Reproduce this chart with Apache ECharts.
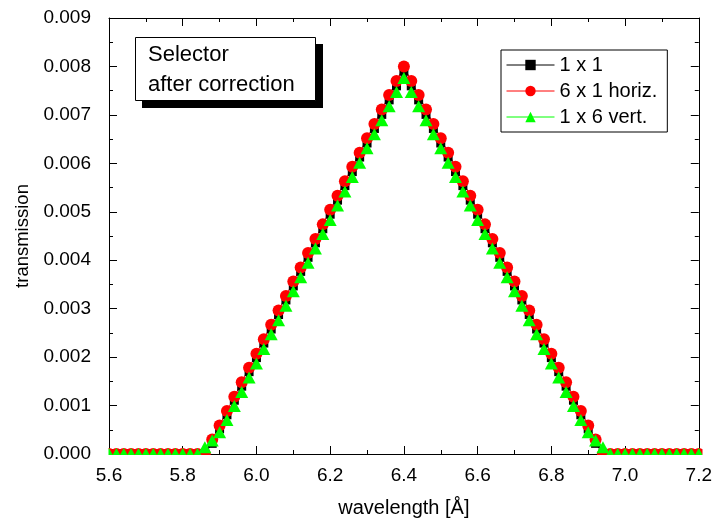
<!DOCTYPE html>
<html>
<head>
<meta charset="utf-8">
<script src="https://cdn.jsdelivr.net/npm/echarts@6/dist/echarts.min.js"></script>
<style>
html,body{margin:0;padding:0;background:#fff;}
#chart{width:715px;height:524px;}
</style>
</head>
<body>
<div id="chart"></div>
<script>
var wavelengths = [5.60,5.62,5.64,5.66,5.68,5.70,5.72,5.74,5.76,5.78,5.80,5.82,5.84,5.86,5.88,5.90,5.92,5.94,5.96,5.98,
6.00,6.02,6.04,6.06,6.08,6.10,6.12,6.14,6.16,6.18,6.20,6.22,6.24,6.26,6.28,6.30,6.32,6.34,6.36,6.38,
6.40,6.42,6.44,6.46,6.48,6.50,6.52,6.54,6.56,6.58,6.60,6.62,6.64,6.66,6.68,6.70,6.72,6.74,6.76,6.78,
6.80,6.82,6.84,6.86,6.88,6.90,6.92,6.94,6.96,6.98,7.00,7.02,7.04,7.06,7.08,7.10,7.12,7.14,7.16,7.18,7.20];

var seriesNames = ['1 x 1', '6 x 1 horiz.', '1 x 6 vert.'];

var t1x1 = [0,0,0,0,0,0,0,0,0,0,0,0,0,0,
0.00022,0.00052,0.00081,0.00111,0.0014,0.0017,0.00199,0.00229,0.00258,0.00288,0.00318,0.00347,0.00377,0.00406,0.00436,0.00465,0.00495,0.00524,0.00554,0.00583,0.00613,0.00642,0.00672,0.00701,0.00731,0.0076,0.0079,
0.0076,0.00731,0.00701,0.00672,0.00642,0.00613,0.00583,0.00554,0.00524,0.00495,0.00465,0.00436,0.00406,0.00377,0.00347,0.00318,0.00288,0.00258,0.00229,0.00199,0.0017,0.0014,0.00111,0.00081,0.00052,0.00022,
0,0,0,0,0,0,0,0,0,0,0,0,0,0];

var t6x1 = [0,0,0,0,0,0,0,0,0,0,0,0,0,0,
0.0003,0.00059,0.00089,0.00118,0.00148,0.00178,0.00207,0.00237,0.00267,0.00296,0.00326,0.00356,0.00385,0.00415,0.00444,0.00474,0.00504,0.00533,0.00563,0.00593,0.00622,0.00652,0.00681,0.00711,0.00741,0.0077,0.008,
0.0077,0.00741,0.00711,0.00681,0.00652,0.00622,0.00593,0.00563,0.00533,0.00504,0.00474,0.00444,0.00415,0.00385,0.00356,0.00326,0.00296,0.00267,0.00237,0.00207,0.00178,0.00148,0.00118,0.00089,0.00059,0.0003,
0,0,0,0,0,0,0,0,0,0,0,0,0,0];

var t1x6 = [0,0,0,0,0,0,0,0,0,0,0,0,0,
0.00014,
0.00028,0.00045,0.0007,0.00099,0.00128,0.00158,0.00187,0.00217,0.00247,0.00276,0.00306,0.00336,0.00365,0.00395,0.00424,0.00454,0.00483,0.00513,0.00542,0.00572,0.00601,0.00631,0.0066,0.00689,0.00718,0.00747,0.00776,
0.00747,0.00718,0.00689,0.0066,0.00631,0.00601,0.00572,0.00542,0.00513,0.00483,0.00454,0.00424,0.00395,0.00365,0.00336,0.00306,0.00276,0.00247,0.00217,0.00187,0.00158,0.00128,0.00099,0.0007,0.00045,0.00028,
0.00014,
0,0,0,0,0,0,0,0,0,0,0,0,0];

var xTickLabels = ['5.6','5.8','6.0','6.2','6.4','6.6','6.8','7.0','7.2'];
var yTickLabels = ['0.000','0.001','0.002','0.003','0.004','0.005','0.006','0.007','0.008','0.009'];

function pairs(ys){ return wavelengths.map(function(x,i){ return [x, ys[i]]; }); }

var FONT = '"Liberation Sans", Arial, sans-serif';
var chart = echarts.init(document.getElementById('chart'), null, {renderer:'canvas'});

var axisCommon = {
  axisLine:{show:true, onZero:false, lineStyle:{color:'#000', width:1}},
  splitLine:{show:false},
  minorSplitLine:{show:false}
};

chart.setOption({
  animation:false,
  backgroundColor:'#fff',
  grid:{left:109, right:13, top:18, bottom:70},
  xAxis:[
    Object.assign({
      type:'value', min:5.6, max:7.2, interval:0.2, position:'bottom',
      name:'wavelength [Å]', nameLocation:'middle', nameGap:44,
      nameTextStyle:{fontFamily:FONT, fontSize:20, color:'#000'},
      axisTick:{show:true, inside:true, length:8, lineStyle:{color:'#000'}},
      minorTick:{show:true, splitNumber:2, length:4, lineStyle:{color:'#000'}},
      axisLabel:{show:true, margin:12, fontFamily:FONT, fontSize:19, color:'#000',
        formatter:function(v){ var i=Math.round((v-5.6)/0.2); return xTickLabels[i]||''; }}
    }, axisCommon),
    Object.assign({
      type:'value', min:5.6, max:7.2, interval:0.2, position:'top',
      axisTick:{show:true, inside:true, length:8, lineStyle:{color:'#000'}},
      minorTick:{show:true, splitNumber:2, length:4, lineStyle:{color:'#000'}},
      axisLabel:{show:false}
    }, axisCommon)
  ],
  yAxis:[
    Object.assign({
      type:'value', min:0, max:0.009, interval:0.001, position:'left',
      name:'transmission', nameLocation:'middle', nameGap:76, nameRotate:90,
      nameTextStyle:{fontFamily:FONT, fontSize:18.5, color:'#000'},
      axisTick:{show:true, inside:true, length:8, lineStyle:{color:'#000'}},
      minorTick:{show:true, splitNumber:2, length:4, lineStyle:{color:'#000'}},
      axisLabel:{show:true, margin:18, fontFamily:FONT, fontSize:19, color:'#000',
        formatter:function(v){ var i=Math.round(v/0.001); return yTickLabels[i]||''; }}
    }, axisCommon),
    Object.assign({
      type:'value', min:0, max:0.009, interval:0.001, position:'right',
      axisTick:{show:true, inside:true, length:8, lineStyle:{color:'#000'}},
      minorTick:{show:true, splitNumber:2, length:4, lineStyle:{color:'#000'}},
      axisLabel:{show:false}
    }, axisCommon)
  ],
  legend:{
    orient:'vertical', left:501, top:50,
    data:seriesNames,
    backgroundColor:'#fff', borderColor:'#000', borderWidth:1,
    padding:[5,10,5,5], itemGap:6, itemWidth:48, itemHeight:13,
    lineStyle:{width:1},
    textStyle:{fontFamily:FONT, fontSize:20, color:'#000'}
  },
  series:[
    {name:seriesNames[0], type:'line', data:pairs(t1x1), xAxisIndex:0, yAxisIndex:0,
     symbol:'rect', symbolSize:9, showAllSymbol:true, clip:false,
     lineStyle:{color:'#000', width:1}, itemStyle:{color:'#000'}},
    {name:seriesNames[1], type:'line', data:pairs(t6x1), xAxisIndex:0, yAxisIndex:0,
     symbol:'circle', symbolSize:12, showAllSymbol:true, clip:false,
     lineStyle:{color:'#ff0000', width:1}, itemStyle:{color:'#ff0000'}},
    {name:seriesNames[2], type:'line', data:pairs(t1x6), xAxisIndex:0, yAxisIndex:0,
     symbol:'triangle', symbolSize:[13,12], showAllSymbol:true, clip:false,
     lineStyle:{color:'#00ff00', width:1}, itemStyle:{color:'#00ff00'}}
  ],
  graphic:[
    {type:'rect', z:100, shape:{x:100, y:455, width:615, height:9}, style:{fill:'#fff'}},
    {type:'rect', z:100, shape:{x:97, y:440, width:11.5, height:24}, style:{fill:'#fff'}},
    {type:'rect', z:100, shape:{x:702.5, y:440, width:13, height:24}, style:{fill:'#fff'}},
    {type:'rect', z:110, shape:{x:142, y:44, width:181, height:64}, style:{fill:'#000'}},
    {type:'rect', z:111, shape:{x:135.5, y:37.5, width:180, height:63}, style:{fill:'#fff', stroke:'#000', lineWidth:1}},
    {type:'text', z:112, x:148, y:55, style:{text:'Selector', font:'22px '+FONT, fill:'#000', verticalAlign:'middle'}},
    {type:'text', z:112, x:148, y:85, style:{text:'after correction', font:'22px '+FONT, fill:'#000', verticalAlign:'middle'}}
  ]
});
</script>
</body>
</html>
